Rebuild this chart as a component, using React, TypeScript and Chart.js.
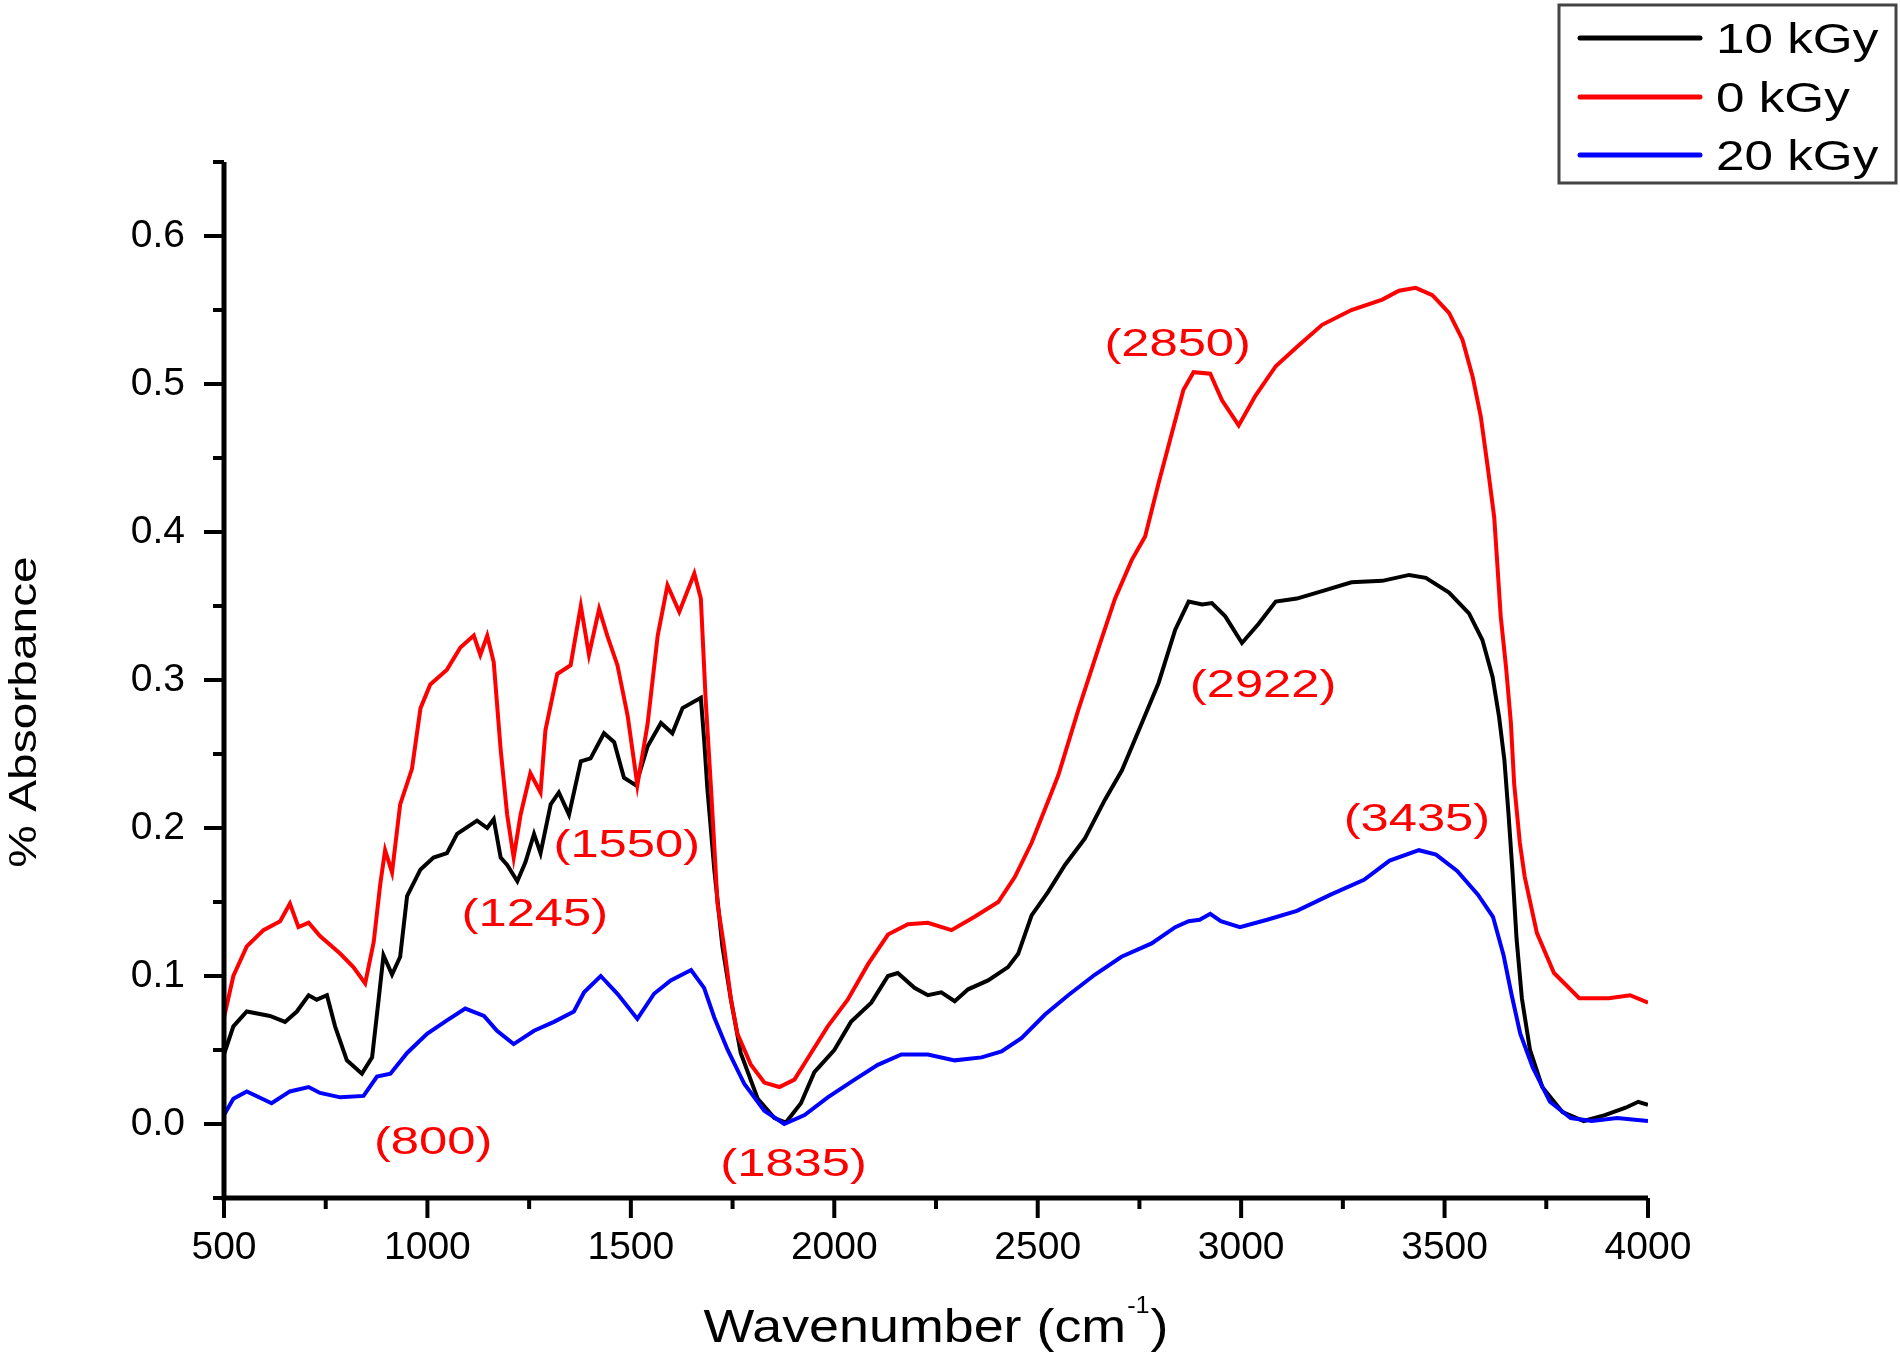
import { useEffect, useRef } from "react";
import { Chart, registerables } from "chart.js";

Chart.register(...registerables);

// 10 kGy (black)
const wn10 = [
  500, 523, 556, 613, 650, 679, 708, 728, 753, 773, 802, 839, 864, 880, 892, 913, 933, 950, 983, 1015,
  1048, 1073, 1122, 1147, 1163, 1180, 1196, 1221, 1241, 1262, 1278, 1303, 1323, 1348, 1377, 1401, 1434,
  1459, 1483, 1512, 1541, 1574, 1602, 1627, 1672, 1680, 1688, 1705, 1725, 1746, 1770, 1812, 1853, 1881,
  1918, 1951, 2000, 2041, 2091, 2132, 2156, 2197, 2230, 2263, 2296, 2329, 2378, 2427, 2452, 2485, 2526,
  2567, 2616, 2665, 2707, 2756, 2797, 2838, 2871, 2904, 2928, 2961, 3002, 3043, 3085, 3137, 3199, 3271,
  3347, 3413, 3454, 3511, 3560, 3593, 3618, 3634, 3647, 3657, 3667, 3677, 3690, 3710, 3740, 3790, 3842,
  3894, 3945, 3976, 4000,
];
const abs10 = [
  0.047, 0.066, 0.076, 0.073, 0.069, 0.076, 0.087, 0.084, 0.087, 0.066, 0.043, 0.034, 0.045, 0.084, 0.114,
  0.101, 0.113, 0.154, 0.172, 0.18, 0.183, 0.196, 0.205, 0.2, 0.206, 0.18, 0.175, 0.164, 0.177, 0.196,
  0.183, 0.216, 0.224, 0.209, 0.245, 0.247, 0.264, 0.258, 0.234, 0.229, 0.255, 0.271, 0.264, 0.281, 0.288,
  0.26, 0.227, 0.172, 0.12, 0.084, 0.048, 0.017, 0.004, 0.001, 0.014, 0.035, 0.05, 0.069, 0.082, 0.1,
  0.102, 0.092, 0.087, 0.089, 0.083, 0.091, 0.097, 0.106, 0.115, 0.141, 0.157, 0.175, 0.193, 0.219, 0.239,
  0.271, 0.298, 0.334, 0.353, 0.351, 0.352, 0.343, 0.325, 0.338, 0.353, 0.355, 0.36, 0.366, 0.367, 0.371,
  0.369, 0.359, 0.345, 0.327, 0.302, 0.275, 0.246, 0.21, 0.17, 0.125, 0.085, 0.05, 0.025, 0.008, 0.002,
  0.006, 0.011, 0.015, 0.013,
];

// 0 kGy (red)
const wn0 = [
  500, 523, 556, 597, 638, 662, 683, 708, 736, 786, 818, 847, 868, 884, 896, 913, 933, 962, 983, 1007,
  1048, 1081, 1114, 1130, 1147, 1163, 1180, 1196, 1212, 1229, 1253, 1278, 1290, 1319, 1352, 1377, 1397,
  1422, 1442, 1467, 1492, 1516, 1541, 1566, 1590, 1619, 1656, 1672, 1684, 1697, 1713, 1729, 1746, 1762,
  1795, 1828, 1865, 1902, 1943, 1984, 2033, 2083, 2132, 2181, 2230, 2288, 2345, 2403, 2444, 2485, 2534,
  2551, 2600, 2650, 2690, 2731, 2764, 2797, 2830, 2858, 2883, 2924, 2953, 2994, 3035, 3085, 3137, 3199,
  3271, 3347, 3388, 3429, 3470, 3511, 3544, 3569, 3589, 3606, 3622, 3630, 3638, 3651, 3663, 3671, 3685,
  3697, 3727, 3769, 3831, 3904, 3956, 4000,
];
const abs0 = [
  0.072, 0.1, 0.12, 0.131, 0.137, 0.149, 0.133, 0.136, 0.127, 0.115, 0.106, 0.095, 0.123, 0.162, 0.185,
  0.17, 0.216, 0.24, 0.281, 0.297, 0.307, 0.322, 0.33, 0.317, 0.33, 0.312, 0.253, 0.209, 0.18, 0.209,
  0.237, 0.224, 0.266, 0.304, 0.31, 0.35, 0.317, 0.348, 0.33, 0.31, 0.276, 0.229, 0.27, 0.33, 0.364,
  0.346, 0.372, 0.355, 0.286, 0.227, 0.149, 0.12, 0.084, 0.061, 0.04, 0.028, 0.025, 0.03, 0.048, 0.066,
  0.084, 0.108, 0.128, 0.135, 0.136, 0.131, 0.14, 0.15, 0.167, 0.19, 0.224, 0.236, 0.28, 0.322, 0.355,
  0.381, 0.397, 0.433, 0.467, 0.496, 0.508, 0.507, 0.489, 0.472, 0.492, 0.512, 0.525, 0.54, 0.55, 0.557,
  0.563, 0.565, 0.56, 0.548, 0.53, 0.505, 0.478, 0.444, 0.41, 0.377, 0.343, 0.309, 0.271, 0.23, 0.19,
  0.167, 0.129, 0.102, 0.085, 0.085, 0.087, 0.082,
];

// 20 kGy (blue)
const wn20 = [
  500, 523, 556, 617, 662, 708, 736, 786, 843, 876, 909, 950, 999, 1048, 1093, 1139, 1171, 1212, 1262,
  1311, 1360, 1385, 1426, 1467, 1516, 1557, 1598, 1648, 1680, 1705, 1738, 1779, 1828, 1877, 1927, 1984,
  2050, 2107, 2165, 2230, 2296, 2362, 2411, 2460, 2518, 2575, 2641, 2706, 2780, 2838, 2871, 2898, 2924,
  2950, 2997, 3064, 3137, 3220, 3302, 3365, 3437, 3479, 3531, 3582, 3619, 3645, 3665, 3686, 3717, 3759,
  3810, 3862, 3924, 4000,
];
const abs20 = [
  0.006, 0.017, 0.022, 0.014, 0.022, 0.025, 0.021, 0.018, 0.019, 0.032, 0.034, 0.048, 0.061, 0.07, 0.078,
  0.073, 0.063, 0.054, 0.063, 0.069, 0.076, 0.089, 0.1, 0.088, 0.071, 0.088, 0.097, 0.104, 0.092, 0.072,
  0.05, 0.027, 0.009, 0.0, 0.006, 0.018, 0.03, 0.04, 0.047, 0.047, 0.043, 0.045, 0.049, 0.058, 0.074,
  0.087, 0.101, 0.113, 0.122, 0.133, 0.137, 0.138, 0.142, 0.137, 0.133, 0.138, 0.144, 0.155, 0.165, 0.178,
  0.185, 0.182, 0.171, 0.155, 0.14, 0.114, 0.087, 0.061, 0.038, 0.015, 0.004, 0.002, 0.004, 0.002,
];

const seriesLabels = ["10 kGy", "0 kGy", "20 kGy"];
const seriesColors = ["#000000", "#ff0000", "#0000ff"];

const xTicks = [500, 1000, 1500, 2000, 2500, 3000, 3500, 4000];
const yTicks = [0, 0.1, 0.2, 0.3, 0.4, 0.5, 0.6];

// peak annotations, anchored in data units
const peakText = ["(800)", "(1245)", "(1550)", "(1835)", "(2850)", "(2922)", "(3435)"];
const peakWn = [1014, 1264, 1490, 1900, 2844, 3054, 3432];
const peakAbs = [-0.013, 0.141, 0.188, -0.028, 0.526, 0.296, 0.205];

const FONT = '"Liberation Sans", Arial, sans-serif';

const toPoints = (xs: number[], ys: number[]) => xs.map((x, i) => ({ x, y: ys[i] }));

const wideText = (ctx: CanvasRenderingContext2D, text: string, x: number, y: number, sx: number) => {
  ctx.save();
  ctx.translate(x, y);
  ctx.scale(sx, 1);
  ctx.fillText(text, 0, 0);
  ctx.restore();
};

const decorations = {
  id: "decorations",
  afterDraw(chart: any) {
    const { ctx, chartArea } = chart;
    const xs = chart.scales.x;
    const ys = chart.scales.y;
    const { left, right, top, bottom } = chartArea;
    ctx.save();

    // axis lines
    ctx.strokeStyle = "#000";
    ctx.lineWidth = 5;
    ctx.beginPath();
    ctx.moveTo(left, top);
    ctx.lineTo(left, bottom + 2.5);
    ctx.moveTo(left - 2.5, bottom);
    ctx.lineTo(right, bottom);
    ctx.stroke();

    // tick marks, major and minor
    ctx.lineWidth = 4;
    ctx.beginPath();
    for (let v = 500; v <= 4000; v += 250) {
      const px = xs.getPixelForValue(v);
      const len = v % 500 === 0 ? 20 : 11;
      ctx.moveTo(px, bottom);
      ctx.lineTo(px, bottom + len);
    }
    for (let k = -1; k <= 13; k++) {
      const py = ys.getPixelForValue(k / 20);
      const len = k >= 0 && k % 2 === 0 ? 20 : 11;
      ctx.moveTo(left, py);
      ctx.lineTo(left - len, py);
    }
    ctx.stroke();

    // peak labels
    ctx.fillStyle = "#ff0000";
    ctx.font = `39px ${FONT}`;
    ctx.textAlign = "center";
    ctx.textBaseline = "middle";
    peakText.forEach((t, i) => {
      wideText(ctx, t, xs.getPixelForValue(peakWn[i]), ys.getPixelForValue(peakAbs[i]), 1.3);
    });

    // x axis title with superscript
    ctx.fillStyle = "#000";
    ctx.textAlign = "left";
    ctx.textBaseline = "alphabetic";
    const main = "Wavenumber (cm";
    const sup = "-1";
    const close = ")";
    ctx.font = `46px ${FONT}`;
    const wMain = ctx.measureText(main).width * 1.17;
    const wClose = ctx.measureText(close).width * 1.17;
    ctx.font = `23px ${FONT}`;
    const wSup = ctx.measureText(sup).width * 1.1;
    let tx = 935 - (wMain + wSup + wClose) / 2;
    ctx.font = `46px ${FONT}`;
    wideText(ctx, main, tx, 1342, 1.17);
    tx += wMain + 1;
    ctx.font = `23px ${FONT}`;
    wideText(ctx, sup, tx, 1313, 1.1);
    tx += wSup + 1;
    ctx.font = `46px ${FONT}`;
    wideText(ctx, close, tx, 1342, 1.17);

    // y axis title
    ctx.save();
    ctx.translate(36, 712);
    ctx.rotate(-Math.PI / 2);
    ctx.scale(1.26, 1);
    ctx.font = `38px ${FONT}`;
    ctx.textAlign = "center";
    ctx.fillText("% Absorbance", 0, 0);
    ctx.restore();

    // legend box
    ctx.strokeStyle = "#444";
    ctx.lineWidth = 3;
    ctx.strokeRect(1559, 5, 337, 178);
    const rows = [38, 97, 155];
    ctx.font = `42px ${FONT}`;
    ctx.textAlign = "left";
    ctx.textBaseline = "alphabetic";
    seriesLabels.forEach((label, i) => {
      ctx.strokeStyle = seriesColors[i];
      ctx.lineWidth = 5;
      ctx.lineCap = "round";
      ctx.beginPath();
      ctx.moveTo(1580, rows[i]);
      ctx.lineTo(1700, rows[i]);
      ctx.stroke();
      ctx.fillStyle = "#000";
      wideText(ctx, label, 1716, rows[i] + 15, 1.22);
    });

    ctx.restore();
  },
};

const App = () => {
  const canvasRef = useRef<HTMLCanvasElement | null>(null);

  useEffect(() => {
    document.body.style.margin = "0";
    document.body.style.overflow = "hidden";
    if (!canvasRef.current) return;

    const chart = new Chart(canvasRef.current, {
      type: "line",
      data: {
        datasets: [
          { label: seriesLabels[0], data: toPoints(wn10, abs10), borderColor: seriesColors[0], order: 3 },
          { label: seriesLabels[1], data: toPoints(wn0, abs0), borderColor: seriesColors[1], order: 2 },
          { label: seriesLabels[2], data: toPoints(wn20, abs20), borderColor: seriesColors[2], order: 1 },
        ].map((d) => ({ ...d, borderWidth: 4, pointRadius: 0, tension: 0, fill: false })),
      },
      options: {
        animation: false,
        responsive: false,
        devicePixelRatio: 1,
        layout: { padding: { left: 100, right: 252, top: 162, bottom: 64 } },
        plugins: { legend: { display: false }, tooltip: { enabled: false } },
        scales: {
          x: {
            type: "linear",
            min: 500,
            max: 4000,
            grid: { display: false, drawTicks: false },
            border: { display: false },
            afterBuildTicks: (scale: any) => {
              scale.ticks = xTicks.map((value) => ({ value }));
            },
            afterFit: (scale: any) => {
              scale.height = 100;
            },
            ticks: {
              autoSkip: false,
              maxRotation: 0,
              padding: 27,
              color: "#000",
              font: { family: FONT, size: 39 },
              callback: (v: any) => String(v),
            },
          },
          y: {
            type: "linear",
            min: -0.05,
            max: 0.65,
            grid: { display: false, drawTicks: false },
            border: { display: false },
            afterBuildTicks: (scale: any) => {
              scale.ticks = yTicks.map((value) => ({ value }));
            },
            afterFit: (scale: any) => {
              scale.width = 124;
            },
            ticks: {
              padding: 39,
              color: "#000",
              font: { family: FONT, size: 39 },
              callback: (v: any) => Number(v).toFixed(1),
            },
          },
        },
      },
      plugins: [decorations],
    });

    return () => {
      chart.destroy();
    };
  }, []);

  return (
    <div style={{ width: 1900, height: 1362, background: "#fff" }}>
      <canvas ref={canvasRef} width={1900} height={1362} style={{ display: "block", width: 1900, height: 1362 }} />
    </div>
  );
};

export default App;
